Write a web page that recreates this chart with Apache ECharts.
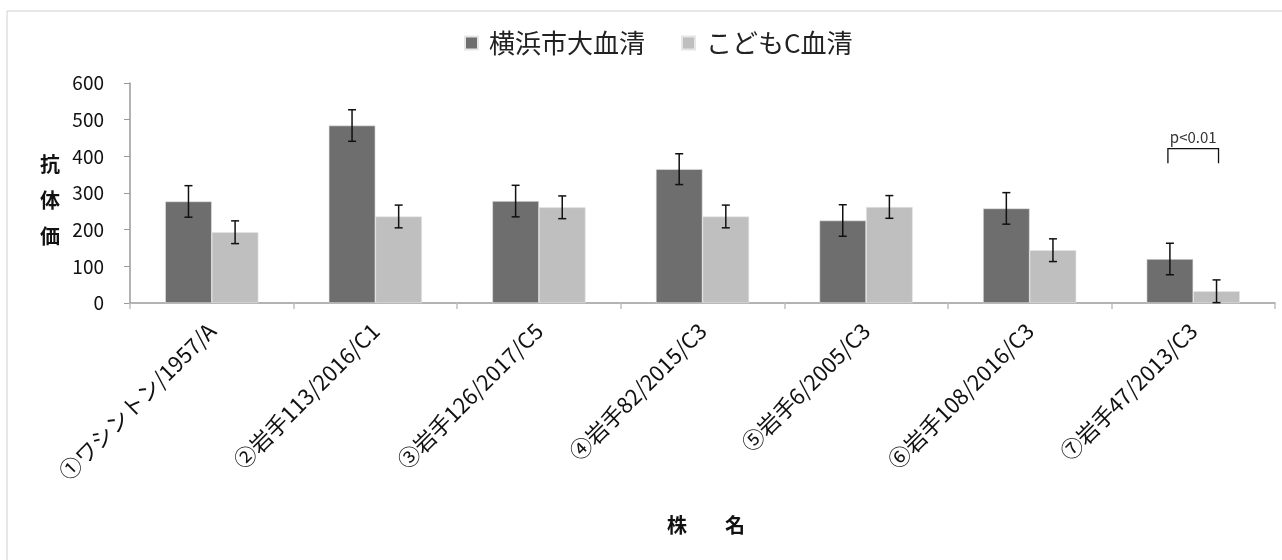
<!DOCTYPE html>
<html>
<head>
<meta charset="utf-8">
<script src="https://cdn.jsdelivr.net/npm/echarts@6/dist/echarts.min.js"></script>
<style>
  html, body { margin: 0; padding: 0; background: #fff; }
  #chart { width: 1282px; height: 560px; }
</style>
</head>
<body>
<div id="chart"></div>
<script>
// Strain names on the x axis
const strains = ['①ワシントン/1957/A', '②岩手113/2016/C1', '③岩手126/2017/C5', '④岩手82/2015/C3',
                 '⑤岩手6/2005/C3', '⑥岩手108/2016/C3', '⑦岩手47/2013/C3'];
const seriesNames = ['横浜市大血清', 'こどもC血清'];
// Mean antibody titres
const yokohamaMean = [277, 484, 278, 365, 225, 258, 120];
const kodomoMean   = [193, 236, 261, 236, 262, 144, 32];
// Error bar half-widths
const yokohamaErr = [43, 43, 43, 42, 43, 43, 43];
const kodomoErr   = [31, 31, 31, 31, 31, 31, 31];
// y axis ticks
const yTicks = [0, 100, 200, 300, 400, 500, 600];
// Significance bracket: category index, bracket top, leg bottom, label
const sigIndex = 6;
const sigTop = 421;
const sigBottom = 381;
const sigLabel = 'p<0.01';

const colors = ['#6e6e6e', '#bfbfbf'];
const catGap = 0.43;
const font = '"Noto Sans CJK JP", "Noto Sans", sans-serif';

function errorItem(offsetSign, means, errs) {
  return function (params, api) {
    const i = api.value(0);
    const m = means[i], e = errs[i];
    const band = api.size([1, 0])[0];
    const barW = band * (1 - catGap) / 2;
    const c = api.coord([i, m]);
    const x = c[0] + offsetSign * barW / 2;
    const top = api.coord([i, m + e])[1];
    const bot = api.coord([i, m - e])[1];
    const cap = 4;
    const st = { stroke: '#111', lineWidth: 1.5 };
    return {
      type: 'group',
      children: [
        { type: 'line', shape: { x1: x, y1: top, x2: x, y2: bot }, style: st },
        { type: 'line', shape: { x1: x - cap, y1: top, x2: x + cap, y2: top }, style: st },
        { type: 'line', shape: { x1: x - cap, y1: bot, x2: x + cap, y2: bot }, style: st }
      ]
    };
  };
}

const chart = echarts.init(document.getElementById('chart'));
chart.setOption({
  animation: false,
  textStyle: { fontFamily: font },
  graphic: [{
    type: 'rect', shape: { x: 7, y: 11, width: 1300, height: 600 },
    style: { fill: 'none', stroke: '#cfcfcf', lineWidth: 1 }, z: -1
  }, {
    type: 'text', left: 40, top: 146,
    style: { text: '抗\n体\n価', font: 'bold 20px ' + font, fill: '#111', lineHeight: 36 }
  }, {
    type: 'text', left: 667, top: 515,
    style: { text: '株', font: 'bold 20px ' + font, fill: '#111' }
  }, {
    type: 'text', left: 725, top: 515,
    style: { text: '名', font: 'bold 20px ' + font, fill: '#111' }
  }],
  legend: {
    top: 25, left: 459,
    itemWidth: 13, itemHeight: 13, itemGap: 36,
    icon: 'rect',
    textStyle: { fontSize: 26, color: '#222', fontFamily: font, padding: [0, 0, 0, 6] },
    data: seriesNames
  },
  grid: { left: 130, right: 7, top: 83, bottom: 257, containLabel: false },
  xAxis: {
    type: 'category',
    data: strains,
    axisLine: { lineStyle: { color: '#9a9a9a', width: 1.5 } },
    axisTick: { show: true, length: 6, lineStyle: { color: '#c0c0c0', width: 1.5 } },
    axisLabel: { rotate: 45, fontSize: 22, color: '#111', margin: 24, interval: 0 }
  },
  yAxis: {
    type: 'value', min: 0, max: 600, interval: 100,
    splitLine: { show: false },
    axisLine: { show: true, lineStyle: { color: '#9a9a9a', width: 1.5 } },
    axisTick: { show: true, length: 6, lineStyle: { color: '#9a9a9a' } },
    axisLabel: { fontSize: 19, color: '#111', margin: 26,
      formatter: v => yTicks.includes(v) ? String(v) : '' }
  },
  series: [{
    name: seriesNames[0], type: 'bar', data: yokohamaMean,
    barGap: '0%', barCategoryGap: (catGap * 100) + '%',
    itemStyle: { color: colors[0], borderColor: '#e6e6e6', borderWidth: 0.6 }
  }, {
    name: seriesNames[1], type: 'bar', data: kodomoMean,
    barGap: '0%', barCategoryGap: (catGap * 100) + '%',
    itemStyle: { color: colors[1], borderColor: '#e6e6e6', borderWidth: 0.6 }
  }, {
    type: 'custom', renderItem: errorItem(-1, yokohamaMean, yokohamaErr),
    data: strains.map((s, i) => [i]), z: 5, silent: true
  }, {
    type: 'custom', renderItem: errorItem(1, kodomoMean, kodomoErr),
    data: strains.map((s, i) => [i]), z: 5, silent: true
  }, {
    type: 'custom',
    renderItem: function (params, api) {
      const i = api.value(0);
      const band = api.size([1, 0])[0];
      const barW = band * (1 - catGap) / 2;
      const cx = api.coord([i, sigTop])[0];
      const x1 = cx - barW / 2 - 2, x2 = cx + barW / 2 + 2;
      const yt = api.coord([i, sigTop])[1];
      const yb = api.coord([i, sigBottom])[1];
      const st = { stroke: '#111', lineWidth: 1.3, fill: 'none' };
      return {
        type: 'group',
        children: [
          { type: 'polyline', shape: { points: [[x1, yb], [x1, yt], [x2, yt], [x2, yb]] }, style: st },
          { type: 'text', x: cx, y: yt - 4,
            style: { text: sigLabel, font: '15px ' + font, fill: '#333', align: 'center', verticalAlign: 'bottom' } }
        ]
      };
    },
    data: [[sigIndex]], z: 5, silent: true
  }]
});
</script>
</body>
</html>
